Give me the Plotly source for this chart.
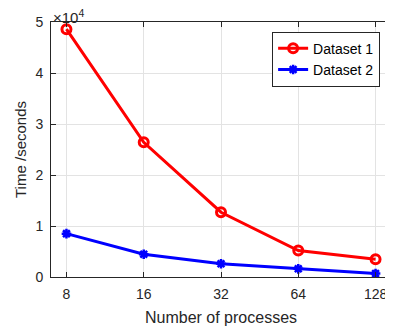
import plotly.graph_objects as go
import math

processes = [8, 16, 32, 64, 128]
dataset1 = [48600, 26400, 12700, 5200, 3500]
dataset2 = [8500, 4450, 2600, 1600, 700]
y_tickvals = [0, 10000, 20000, 30000, 40000, 50000]
y_ticktext = ["0", "1", "2", "3", "4", "5"]

FONT = "Liberation Sans, Arial"

fig = go.Figure()
fig.add_trace(go.Scatter(x=processes, y=dataset1, name="Dataset 1", mode="lines+markers",
                         line=dict(color="#ff0000", width=3),
                         marker=dict(symbol="circle-open", size=9, color="#ff0000", line=dict(width=3))))
fig.add_trace(go.Scatter(x=processes, y=dataset2, name="Dataset 2", mode="lines+markers",
                         line=dict(color="#0000ff", width=3),
                         marker=dict(symbol="asterisk-open", size=8, color="#0000ff", line=dict(width=2.5, color="#0000ff"))))

axis_common = dict(showline=True, linecolor="#262626", linewidth=1, mirror="ticks",
                   ticks="inside", ticklen=5, tickcolor="#262626", automargin=True,
                   showgrid=True, gridcolor="#e3e3e3", gridwidth=1, zeroline=False,
                   tickfont=dict(family=FONT, size=14, color="#262626"))

fig.update_xaxes(type="log", range=[math.log10(2 ** 2.8), math.log10(2 ** 7.2)],
                 tickvals=processes, ticktext=[str(p) for p in processes],
                 ticklabelstandoff=4,
                 title=dict(text="Number of processes", font=dict(family=FONT, size=16, color="#262626"), standoff=11),
                 **axis_common)
fig.update_yaxes(range=[0, 50000], tickvals=y_tickvals, ticktext=y_ticktext,
                 ticklabelstandoff=4,
                 title=dict(text="Time /seconds", font=dict(family=FONT, size=15, color="#262626"), standoff=5),
                 **axis_common)

fig.add_annotation(text="×10<sup>4</sup>", xref="paper", yref="paper", x=0, y=1,
                   xanchor="left", yanchor="bottom", showarrow=False,
                   font=dict(family=FONT, size=15, color="#262626"), yshift=-6, xshift=0)

# page has an 8px body margin; figure sized so plot area lands at x 51-391, y 22-277
fig.update_layout(width=385, height=327, margin=dict(l=43, r=2, t=14, b=58, autoexpand=False),
                  plot_bgcolor="white", paper_bgcolor="white",
                  font=dict(family=FONT, color="#262626"),
                  legend=dict(x=0.968, y=0.962, xanchor="right", yanchor="top",
                              bgcolor="white", bordercolor="#262626", borderwidth=1,
                              font=dict(family=FONT, size=14, color="#000000"),
                              tracegroupgap=0))

fig.write_html("out.html")
